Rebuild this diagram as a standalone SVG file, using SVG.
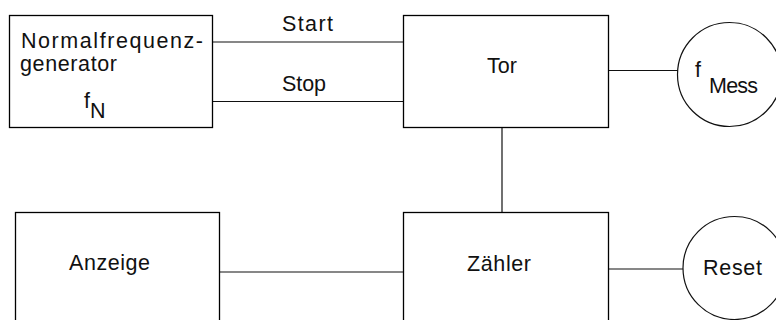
<svg xmlns="http://www.w3.org/2000/svg" width="776" height="320" viewBox="0 0 776 320">
<style>
.box{fill:#fff;stroke:#000;stroke-width:1.3}
.ln{stroke:#111;stroke-width:1.2;fill:none}
.t{font-family:"Liberation Sans",Arial,sans-serif;font-size:21.5px;fill:#111}
</style>
<rect width="776" height="320" fill="#fff"/>
<g id="connectors">
<line class="ln" x1="212" y1="42" x2="404" y2="42"/>
<line class="ln" x1="212" y1="101.5" x2="404" y2="101.5"/>
<line class="ln" x1="608" y1="70.5" x2="678" y2="70.5"/>
<line class="ln" x1="502" y1="127" x2="502" y2="212"/>
<line class="ln" x1="219" y1="272" x2="404" y2="272"/>
<line class="ln" x1="608" y1="269" x2="683" y2="269"/>
<text class="t" x="282" y="31" textLength="51" lengthAdjust="spacing">Start</text>
<text class="t" x="282" y="91" textLength="44" lengthAdjust="spacing">Stop</text>
</g>
<g id="normalfrequenzgenerator">
<rect class="box" x="9.5" y="15.5" width="203" height="112"/>
<text class="t" x="21" y="47.5" textLength="182" lengthAdjust="spacing">Normalfrequenz-</text>
<text class="t" x="20" y="71" textLength="97" lengthAdjust="spacing">generator</text>
<text class="t" x="84" y="108">f</text>
<text class="t" x="90" y="118">N</text>
</g>
<g id="tor">
<rect class="box" x="403.5" y="15.5" width="205" height="112"/>
<text class="t" x="487" y="72.5" textLength="30" lengthAdjust="spacing">Tor</text>
</g>
<g id="fmess">
<circle class="ln" cx="729.5" cy="74.5" r="52"/>
<text class="t" x="695" y="77">f</text>
<text class="t" x="709" y="93" textLength="49" lengthAdjust="spacing">Mess</text>
</g>
<g id="anzeige">
<rect class="box" x="15.5" y="212.5" width="204" height="120"/>
<text class="t" x="69" y="270" textLength="81" lengthAdjust="spacing">Anzeige</text>
</g>
<g id="zaehler">
<rect class="box" x="403.5" y="212.5" width="205" height="120"/>
<text class="t" x="467" y="271" textLength="64" lengthAdjust="spacing">Zähler</text>
</g>
<g id="reset">
<circle class="ln" cx="734.5" cy="268" r="51.5"/>
<text class="t" x="703" y="275" textLength="59" lengthAdjust="spacing">Reset</text>
</g>
</svg>
